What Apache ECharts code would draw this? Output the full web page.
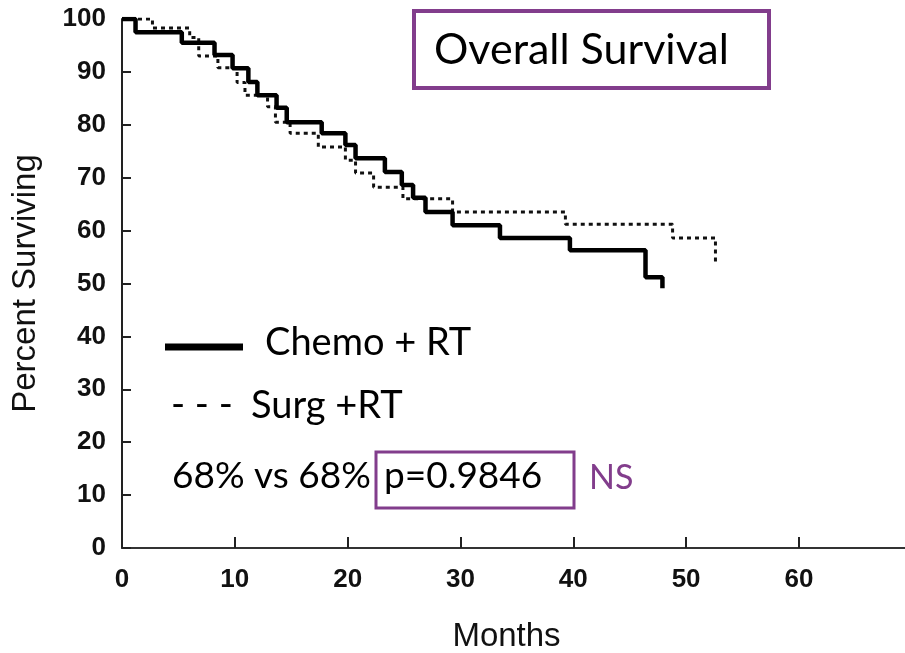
<!DOCTYPE html>
<html>
<head>
<meta charset="utf-8">
<script src="https://cdn.jsdelivr.net/npm/echarts@6/dist/echarts.min.js"></script>
<style>
html,body{margin:0;padding:0;background:#fff}
#main{width:905px;height:653px}
</style>
</head>
<body>
<div id="main"></div>
<script>
// Kaplan-Meier steps (months, % surviving after the step)
var chemoMonths = [0, 1.2, 5.3, 8.2, 9.8, 11.2, 12.0, 13.7, 14.6, 17.7, 19.8, 20.7, 23.3, 24.8, 25.8, 26.9, 29.3, 33.5, 39.7, 46.4, 47.9];
var chemoSurv   = [100, 97.5, 95.5, 93.2, 90.7, 88.1, 85.6, 83.2, 80.5, 78.4, 76.2, 73.7, 71.1, 68.6, 66.2, 63.5, 61.0, 58.6, 56.3, 51.2, 49.1];

var surgMonths = [0, 2.7, 6.0, 6.8, 8.5, 10.2, 10.9, 12.9, 13.6, 14.9, 17.4, 19.8, 20.7, 22.3, 24.9, 29.3, 39.3, 48.8, 52.6];
var surgSurv   = [100, 98.3, 96.5, 93.0, 90.8, 88.0, 85.6, 83.4, 80.5, 78.4, 75.8, 73.3, 70.9, 68.2, 66.0, 63.5, 61.2, 58.6, 53.9];

var xTicks = [0, 10, 20, 30, 40, 50, 60];
var yTicks = [0, 10, 20, 30, 40, 50, 60, 70, 80, 90, 100];

var purple = '#823d8c';
var txtFont = 'Lato';

function pairs(xs, ys) {
    return xs.map(function (x, i) { return [x, ys[i]]; });
}

var chart = echarts.init(document.getElementById('main'));

var option = {
    backgroundColor: '#fff',
    animation: false,
    grid: { left: 122, right: 0, top: 19, bottom: 105, outerBoundsMode: 'none', containLabel: false },
    xAxis: {
        type: 'value',
        min: 0,
        max: 69.4,
        interval: 10,
        name: 'Months',
        nameLocation: 'middle',
        nameGap: 72,
        nameTextStyle: { fontFamily: 'Liberation Sans', fontSize: 33, color: '#111', padding: [0, 14, 0, 0] },
        axisLine: { lineStyle: { color: '#333', width: 2 } },
        axisTick: { inside: true, length: 11, lineStyle: { color: '#222', width: 2 } },
        axisLabel: {
            margin: 19, fontFamily: 'Liberation Sans', fontSize: 26, fontWeight: 'bold', color: '#111',
            showMaxLabel: false,
            formatter: function (v) { return xTicks.indexOf(v) >= 0 ? String(v) : ''; }
        },
        splitLine: { show: false }
    },
    yAxis: {
        type: 'value',
        min: 0,
        max: 100,
        interval: 10,
        name: 'Percent Surviving',
        nameLocation: 'middle',
        nameGap: 80,
        nameTextStyle: { fontFamily: 'Liberation Sans', fontSize: 33, color: '#111' },
        axisLine: { show: true, lineStyle: { color: '#222', width: 2 } },
        axisTick: { show: true, inside: true, length: 9, lineStyle: { color: '#222', width: 2 } },
        axisLabel: {
            margin: 16, fontFamily: 'Liberation Sans', fontSize: 26, fontWeight: 'bold', color: '#111',
            formatter: function (v) { return yTicks.indexOf(v) >= 0 ? String(v) : ''; }
        },
        splitLine: { show: false }
    },
    series: [
        {
            name: 'Chemo + RT',
            type: 'line',
            step: 'end',
            symbol: 'none',
            data: pairs(chemoMonths, chemoSurv),
            lineStyle: { color: '#000', width: 4.5 },
            z: 3
        },
        {
            name: 'Surg +RT',
            type: 'line',
            step: 'end',
            symbol: 'none',
            data: pairs(surgMonths, surgSurv),
            lineStyle: { color: '#111', width: 3, type: [4, 4] },
            z: 2
        }
    ],
    graphic: [
        // title box
        { type: 'rect', shape: { x: 414, y: 11, width: 355, height: 77 },
          style: { fill: '#fff', stroke: purple, lineWidth: 4 } },
        { type: 'text', x: 434, y: 50,
          style: { text: 'Overall Survival', font: '43px ' + txtFont, fill: '#000', verticalAlign: 'middle' } },
        // legend
        { type: 'line', shape: { x1: 165, y1: 347, x2: 243, y2: 347 },
          style: { stroke: '#000', lineWidth: 7 } },
        { type: 'text', x: 265, y: 343,
          style: { text: 'Chemo + RT', font: '38px ' + txtFont, fill: '#000', verticalAlign: 'middle' } },
        { type: 'text', x: 171, y: 405,
          style: { text: '- - -', font: '38px ' + txtFont, fill: '#000', verticalAlign: 'middle' } },
        { type: 'text', x: 251, y: 406,
          style: { text: 'Surg +RT', font: '38px ' + txtFont, fill: '#000', verticalAlign: 'middle' } },
        // p value row
        { type: 'text', x: 172, y: 476,
          style: { text: '68% vs 68%', font: '37px ' + txtFont, fill: '#000', verticalAlign: 'middle' } },
        { type: 'rect', shape: { x: 376, y: 452, width: 198, height: 56 },
          style: { fill: 'none', stroke: purple, lineWidth: 3 } },
        { type: 'text', x: 384, y: 476,
          style: { text: 'p=0.9846', font: '37px ' + txtFont, fill: '#000', verticalAlign: 'middle' } },
        { type: 'text', x: 589, y: 478,
          style: { text: 'NS', font: '34px ' + txtFont, fill: purple, verticalAlign: 'middle' } }
    ]
};

chart.setOption(option);
</script>
</body>
</html>
